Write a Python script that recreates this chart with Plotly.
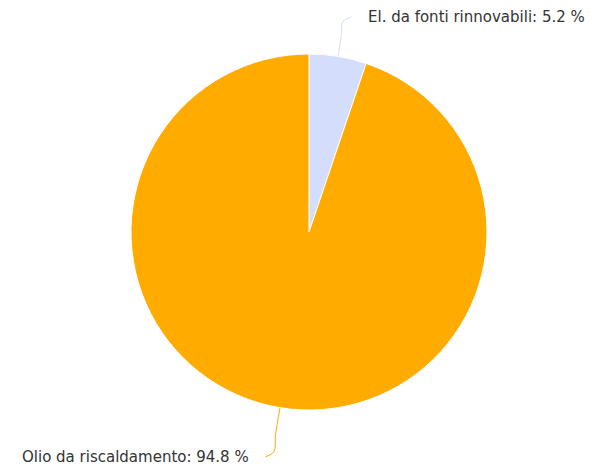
import math
import plotly.graph_objects as go

labels = ["El. da fonti rinnovabili", "Olio da riscaldamento"]
values = [5.2, 94.8]
colors = ["#d5ddfc", "#ffab00"]

W, H = 597, 470
OFF = 8                  # page body margin around the plot div
cx, cy, R = 309, 232, 178  # pie geometry in screen pixels
label_dist = [40, 50]    # distance of label beyond pie edge (px)
radial_ext = [21, 28]    # straight connector part (px)

fig = go.Figure()
fig.add_trace(go.Pie(
    labels=labels, values=values, sort=False, direction="clockwise", rotation=0,
    marker=dict(colors=colors, line=dict(color="#ffffff", width=1)),
    textinfo="none", hoverinfo="label+percent", showlegend=False,
    domain=dict(x=[(cx - OFF - R) / W, (cx - OFF + R) / W],
                y=[1 - (cy - OFF + R) / H, 1 - (cy - OFF - R) / H]),
))

total = sum(values)
cum = 0.0
for i, (lab, v) in enumerate(zip(labels, values)):
    mid = (cum + v / 2) / total * 2 * math.pi
    cum += v
    sx, sy = math.sin(mid), -math.cos(mid)
    p0 = (cx + R * sx, cy + R * sy)
    p1 = (cx + (R + radial_ext[i]) * sx, cy + (R + radial_ext[i]) * sy)
    ly = cy + (R + label_dist[i]) * sy
    side = 1 if sx >= 0 else -1
    p3 = (p1[0] + side * 10, ly)
    xs = [p0[0], p1[0], p1[0] + side * 1.5, p3[0]]
    ys = [p0[1], p1[1], p1[1] + (ly - p1[1]) * 0.75, ly]
    fig.add_trace(go.Scatter(x=xs, y=ys, mode="lines", line=dict(color=colors[i], width=1, shape="spline"),
                             hoverinfo="skip", showlegend=False, xaxis="x", yaxis="y"))
    fig.add_annotation(x=p3[0] + side * 15, y=ly, xref="x", yref="y",
                       text=f"{lab}: {v} %", showarrow=False,
                       xanchor="left" if side > 0 else "right", yanchor="middle",
                       font=dict(family="DejaVu Sans", size=15, color="#333333"))

fig.update_layout(
    width=W, height=H, margin=dict(l=0, r=0, t=0, b=0),
    paper_bgcolor="#ffffff", plot_bgcolor="rgba(0,0,0,0)",
    xaxis=dict(range=[OFF, W + OFF], visible=False, domain=[0, 1], fixedrange=True),
    yaxis=dict(range=[H + OFF, OFF], visible=False, domain=[0, 1], fixedrange=True),
)
fig.write_html("out.html")
